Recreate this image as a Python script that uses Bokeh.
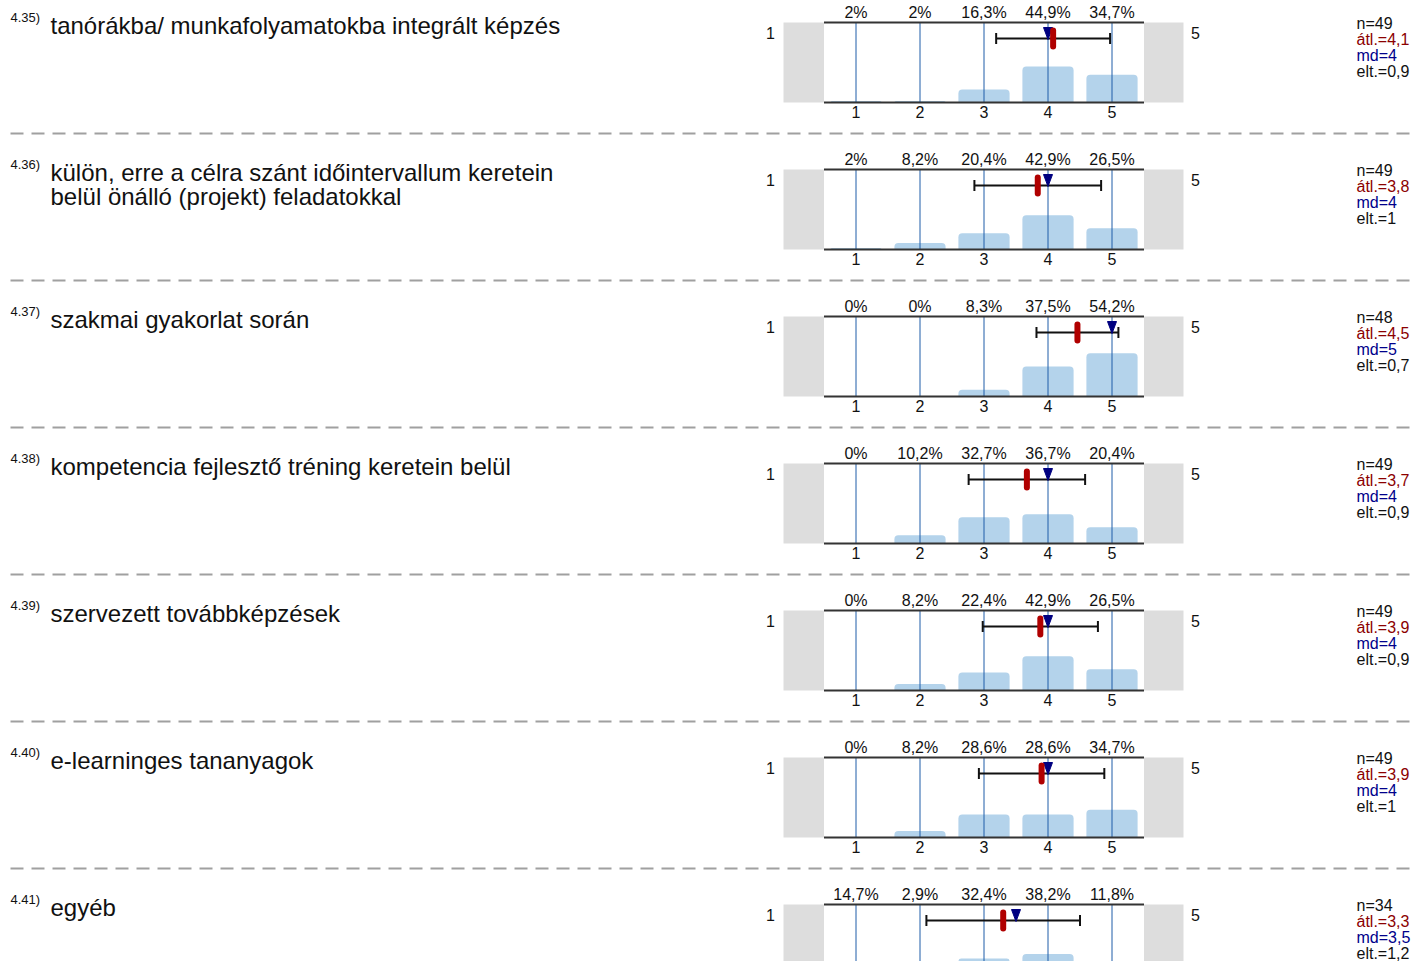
from bokeh.plotting import figure
from bokeh.layouts import column
from bokeh.models import Range1d
from bokeh.core.properties import value
from bokeh.embed import file_html
from bokeh.resources import INLINE

# ---------------- data ----------------
q_numbers = ["4.35)", "4.36)", "4.37)", "4.38)", "4.39)", "4.40)", "4.41)"]
q_texts = [
    ["tanórákba/ munkafolyamatokba integrált képzés"],
    ["külön, erre a célra szánt időintervallum  keretein", "belül önálló (projekt) feladatokkal"],
    ["szakmai gyakorlat során"],
    ["kompetencia fejlesztő tréning keretein belül"],
    ["szervezett továbbképzések"],
    ["e-learninges tananyagok"],
    ["egyéb"],
]
categories = [1, 2, 3, 4, 5]
tick_labels = ["1", "2", "3", "4", "5"]
percents = [
    [2.0, 2.0, 16.3, 44.9, 34.7],
    [2.0, 8.2, 20.4, 42.9, 26.5],
    [0.0, 0.0, 8.3, 37.5, 54.2],
    [0.0, 10.2, 32.7, 36.7, 20.4],
    [0.0, 8.2, 22.4, 42.9, 26.5],
    [0.0, 8.2, 28.6, 28.6, 34.7],
    [14.7, 2.9, 32.4, 38.2, 11.8],
]
pct_labels = [
    ["2%", "2%", "16,3%", "44,9%", "34,7%"],
    ["2%", "8,2%", "20,4%", "42,9%", "26,5%"],
    ["0%", "0%", "8,3%", "37,5%", "54,2%"],
    ["0%", "10,2%", "32,7%", "36,7%", "20,4%"],
    ["0%", "8,2%", "22,4%", "42,9%", "26,5%"],
    ["0%", "8,2%", "28,6%", "28,6%", "34,7%"],
    ["14,7%", "2,9%", "32,4%", "38,2%", "11,8%"],
]
means = [4.08, 3.84, 4.46, 3.67, 3.88, 3.90, 3.30]
sds = [0.89, 0.99, 0.64, 0.91, 0.90, 0.98, 1.20]
medians = [4.0, 4.0, 5.0, 4.0, 4.0, 4.0, 3.5]
n_labels = ["n=49", "n=49", "n=48", "n=49", "n=49", "n=49", "n=34"]
mean_labels = ["átl.=4,1", "átl.=3,8", "átl.=4,5", "átl.=3,7", "átl.=3,9", "átl.=3,9", "átl.=3,3"]
md_labels = ["md=4", "md=4", "md=5", "md=4", "md=4", "md=4", "md=3,5"]
sd_labels = ["elt.=0,9", "elt.=1", "elt.=0,7", "elt.=0,9", "elt.=0,9", "elt.=1", "elt.=1,2"]
scale_left = "1"
scale_right = "5"

# ---------------- layout constants ----------------
W = 1412
ROW = 147
LAST_ROW = 961 - 6 * ROW
PX_PER_UNIT = 64.0
PX_PER_PCT = 0.8
BASE_R = 102  # row-relative y of bar baseline
X0 = 1 - 855.5 / PX_PER_UNIT
X1 = X0 + W / PX_PER_UNIT
FONT = "Liberation Sans"


def xd(px):
    return X0 + px / PX_PER_UNIT


def yd(r):
    return (BASE_R - r) / PX_PER_PCT


figs = []
n_rows = len(q_numbers)
for i in range(n_rows):
    H = LAST_ROW if i == n_rows - 1 else ROW
    p = figure(width=W, height=H, x_range=Range1d(X0, X1),
               y_range=Range1d(yd(H), yd(0)), output_backend="svg",
               toolbar_location=None, min_border=0, x_axis_location=None,
               y_axis_location=None, outline_line_color=None, title=None)
    p.grid.visible = False
    p.background_fill_color = "white"
    p.border_fill_color = "white"

    # side gray boxes
    p.quad(left=[xd(783), 5.5], right=[0.5, xd(1183)], bottom=[0, 0], top=[100, 100],
           fill_color="#dddddd", line_color=None)
    # bars
    p.vbar(x=categories, top=percents[i], bottom=0, width=0.8,
           fill_color="#b4d3eb", line_color=None, border_radius=(4, 4, 0, 0))
    # vertical category lines
    p.segment(x0=categories, x1=categories, y0=[0] * 5, y1=[100] * 5,
              line_color="#1f5ca8", line_width=1)
    # top / bottom box lines
    p.segment(x0=[0.5, 0.5], x1=[5.5, 5.5], y0=[0, 100], y1=[0, 100],
              line_color="#333333", line_width=2)
    # percentage labels above
    p.text(x=categories, y=[yd(11.5)] * 5, text=pct_labels[i], text_align="center",
           text_baseline="middle", text_font=value(FONT), text_font_size="16px",
           text_color="#111111")
    # tick labels below (only where they fall inside the row)
    if 111 < H:
        p.text(x=categories, y=[yd(111.5)] * 5, text=tick_labels, text_align="center",
               text_baseline="middle", text_font=value(FONT), text_font_size="16px",
               text_color="#111111")
    # scale end labels
    p.text(x=[xd(770), xd(1195)], y=[yd(32.5)] * 2, text=[scale_left, scale_right],
           text_align="center", text_baseline="middle", text_font=value(FONT),
           text_font_size="16px", text_color="#111111")
    # error bar (mean +- sd)
    lo = means[i] - sds[i]
    hi = means[i] + sds[i]
    ey = yd(38)
    p.segment(x0=[lo], x1=[hi], y0=[ey], y1=[ey], line_color="#111111", line_width=2)
    p.segment(x0=[lo, hi], x1=[lo, hi], y0=[yd(32.5)] * 2, y1=[yd(43.5)] * 2,
              line_color="#111111", line_width=2)
    # median triangle
    m = medians[i]
    hw = 4.5 / PX_PER_UNIT
    p.patch(x=[m - hw, m + hw, m], y=[yd(27), yd(27), yd(39)],
            fill_color="#000080", line_color="#000080", line_width=1)
    # mean marker
    p.segment(x0=[means[i]], x1=[means[i]], y0=[yd(30)], y1=[yd(46)],
              line_color="#b00000", line_width=6, line_cap="round")
    # question number and text
    p.text(x=[xd(10)], y=[yd(17)], text=[q_numbers[i]], text_align="left",
           text_baseline="middle", text_font=value(FONT), text_font_size="13px",
           text_color="#111111")
    lines = q_texts[i]
    p.text(x=[xd(50)] * len(lines), y=[yd(24.5 + 24 * k) for k in range(len(lines))],
           text=lines, text_align="left", text_baseline="middle",
           text_font=value(FONT), text_font_size="24px", text_color="#111111")
    # stats
    stats = [n_labels[i], mean_labels[i], md_labels[i], sd_labels[i]]
    colors = ["#111111", "#8b0000", "#00008b", "#111111"]
    p.text(x=[xd(1356)] * 4, y=[yd(23 + 16 * k) for k in range(4)], text=stats,
           text_color=colors, text_align="left", text_baseline="middle",
           text_font=value(FONT), text_font_size="16px")
    # separator
    if i < n_rows - 1:
        p.segment(x0=[xd(10)], x1=[xd(1412)], y0=[yd(133)], y1=[yd(133)],
                  line_color="#a0a0a0", line_width=2, line_dash="13 8")
    figs.append(p)

layout = column(*figs, spacing=0)
open("out.html", "w").write(file_html(layout, INLINE))
